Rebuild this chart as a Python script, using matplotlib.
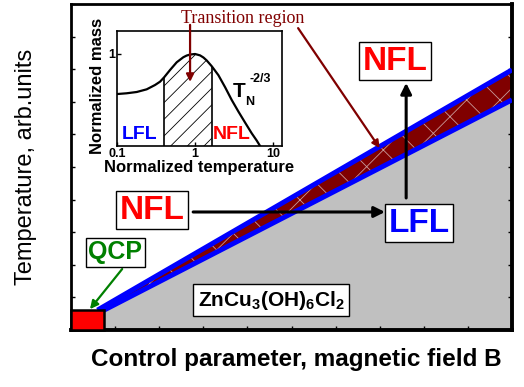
import numpy as np
import matplotlib
matplotlib.use("Agg")
import matplotlib.pyplot as plt

plt.rcParams["font.family"] = ["Liberation Sans", "DejaVu Sans"]
plt.rcParams["mathtext.fontset"] = "custom"
plt.rcParams["mathtext.bf"] = "Liberation Sans:bold"
plt.rcParams["mathtext.rm"] = "Liberation Sans:bold"
plt.rcParams["mathtext.default"] = "bf"
plt.rcParams["hatch.linewidth"] = 0.6

# ── phase diagram (arbitrary units, 0..1 on both axes) ─────────────────────────
upper_b = [0.06, 1.0]      # upper edge of the crossover band
upper_t = [0.061, 0.798]
lower_b = [0.075, 1.0]     # lower edge, top of the LFL region
lower_t = [0.061, 0.706]
qcp_size = (0.075, 0.061)

# ── inset: normalized effective mass vs normalized temperature ────────────────
t_norm = [0.101, 0.133, 0.179, 0.240, 0.307, 0.356, 0.401, 0.478, 0.582,
          0.708, 0.78, 0.863, 1.0, 1.159, 1.28, 1.41, 1.64, 1.99, 2.43, 2.95,
          3.60, 4.38, 5.32, 6.18, 6.81]
m_norm = [0.565, 0.573, 0.587, 0.616, 0.663, 0.699, 0.746, 0.826, 0.910,
          0.965, 0.983, 0.994, 1.0, 0.985, 0.962, 0.930, 0.866, 0.770, 0.638,
          0.50, 0.373, 0.254, 0.138, 0.058, 0.0]
trans_lo, trans_hi = 0.40, 1.65

DARKRED = "#800000"

fig = plt.figure(figsize=(5.24, 3.87), dpi=100)
ax = fig.add_axes([71 / 524, 1 - 330 / 387, 441 / 524, 326 / 387])
ax.set_xlim(0, 1)
ax.set_ylim(0, 1)

# grey LFL region below the lower boundary
ax.fill([lower_b[0], lower_b[1], 1.0, lower_b[0]],
        [lower_t[0], lower_t[1], 0.0, 0.0],
        facecolor="#c0c0c0", edgecolor="#a8e4e4", lw=1.2, zorder=1)

# transition band, dark red with thin light cross hatching
band_b = np.r_[upper_b, lower_b[::-1]]
band_t = np.r_[upper_t, lower_t[::-1]]
ax.fill(band_b, band_t, facecolor=DARKRED, edgecolor="#c89a9a",
        hatch="x", lw=0, zorder=2)
ax.plot(upper_b, upper_t, color="#0000ff", lw=3.6, zorder=3,
        solid_capstyle="butt")
ax.plot(lower_b, lower_t, color="#0000ff", lw=3.6, zorder=3,
        solid_capstyle="butt")

# QCP marker
ax.add_patch(plt.Rectangle((0, 0), qcp_size[0], qcp_size[1],
                           facecolor="#ff0000", edgecolor="black", lw=1.8,
                           zorder=4, clip_on=False))

for side in ["left", "top"]:
    ax.spines[side].set_linewidth(2.0)
for side in ["right", "bottom"]:
    ax.spines[side].set_linewidth(2.8)
ax.set_xticks(np.arange(0, 1.01, 0.1))
ax.set_yticks(np.arange(0, 1.01, 0.1))
ax.tick_params(direction="in", length=3, width=1, left=True, right=True,
               bottom=True, top=False, labelleft=False, labelbottom=False)

ax.set_ylabel("Temperature, arb.units", fontsize=17)
ax.yaxis.set_label_coords(-0.078, 0.5)
ax.set_xlabel("Control parameter, magnetic field B", fontsize=17.5,
              fontweight="bold")
ax.xaxis.set_label_coords(0.51, -0.055)

box = dict(boxstyle="square,pad=0.1", facecolor="white", edgecolor="black",
           lw=1)
ax.text(0.735, 0.825, "NFL", color="#ff0000", fontsize=24, fontweight="bold",
        ha="center", va="center", bbox=box, zorder=6)
ax.text(0.789, 0.328, "LFL", color="#0000ff", fontsize=24, fontweight="bold",
        ha="center", va="center", bbox=box, zorder=6)
ax.text(0.184, 0.368, "NFL", color="#ff0000", fontsize=24, fontweight="bold",
        ha="center", va="center", bbox=box, zorder=6)
ax.text(0.0998, 0.239, "QCP", color="#008000", fontsize=18, fontweight="bold",
        ha="center", va="center", bbox=box, zorder=6)
ax.text(0.4535, 0.092, r"ZnCu$_3$(OH)$_6$Cl$_2$", fontsize=15,
        fontweight="bold", ha="center", va="center",
        bbox=dict(boxstyle="square,pad=0.2", facecolor="white",
                  edgecolor="black", lw=1), zorder=6)

arrow_k = dict(arrowstyle="-|>", color="black", lw=2.2, mutation_scale=16,
               shrinkA=0, shrinkB=0)
ax.annotate("", xy=(0.76, 0.758), xytext=(0.76, 0.405), arrowprops=arrow_k,
            zorder=5)
ax.annotate("", xy=(0.712, 0.362), xytext=(0.277, 0.362), arrowprops=arrow_k,
            zorder=5)
ax.annotate("", xy=(0.043, 0.064), xytext=(0.116, 0.187),
            arrowprops=dict(arrowstyle="-|>", color="#008000", lw=1.6,
                            mutation_scale=12, shrinkA=0, shrinkB=0),
            zorder=5)

arrow_r = dict(arrowstyle="-|>", color=DARKRED, lw=1.6, mutation_scale=11,
               shrinkA=0, shrinkB=0)
ax.text(0.39, 0.955, "Transition region", color=DARKRED, fontsize=13,
        family="Liberation Serif", ha="center", va="center", zorder=6)
ax.annotate("", xy=(0.70, 0.558), xytext=(0.515, 0.926), arrowprops=arrow_r,
            zorder=5)

# ── inset ─────────────────────────────────────────────────────────────────────
ins = fig.add_axes([117 / 524, 1 - 146 / 387, 165 / 524, 115 / 387])
ins.set_xscale("log")
ins.set_xlim(0.1, 13)
ins.set_ylim(0, 1.25)
t = np.array(t_norm)
m = np.array(m_norm)
sel = (t >= trans_lo) & (t <= trans_hi)
ins.fill_between(t[sel], 0, m[sel], facecolor="white", edgecolor="black",
                 hatch="//", lw=0)
ins.vlines([t[sel][0], t[sel][-1]], 0, [m[sel][0], m[sel][-1]], color="black",
           lw=1.2)
ins.plot(t, m, color="black", lw=1.6)
for s in ins.spines.values():
    s.set_linewidth(1.2)
ins.set_xticks([0.1, 1, 10])
ins.set_xticklabels(["0.1", "1", "10"])
ins.xaxis.set_minor_locator(matplotlib.ticker.NullLocator())
ins.set_yticks([1])
ins.set_yticklabels(["1"])
ins.tick_params(direction="in", length=3, width=1, labelsize=9, pad=1.5)
for lbl in ins.get_xticklabels() + ins.get_yticklabels():
    lbl.set_fontweight("bold")
ins.set_xlabel("Normalized temperature", fontsize=12, fontweight="bold")
ins.xaxis.set_label_coords(0.497, -0.12)
ins.set_ylabel("Normalized mass", fontsize=12, fontweight="bold")
ins.yaxis.set_label_coords(-0.075, 0.52)

ins.text(0.03, 0.096, "LFL", transform=ins.transAxes, color="#0000ff",
         fontsize=14, fontweight="bold", ha="left", va="center")
ins.text(0.582, 0.096, "NFL", transform=ins.transAxes, color="#ff0000",
         fontsize=14, fontweight="bold", ha="left", va="center")
ins.text(0.703, 0.47, "T", transform=ins.transAxes, fontsize=15,
         fontweight="bold", ha="left", va="center")
ins.text(0.776, 0.38, "N", transform=ins.transAxes, fontsize=9,
         fontweight="bold", ha="left", va="center")
ins.text(0.80, 0.58, "-2/3", transform=ins.transAxes, fontsize=9,
         fontweight="bold", ha="left", va="center")

# arrow from the "Transition region" label down into the hatched area
ins.annotate("", xy=(0.27, 0.761), xycoords=ax.transData,
             xytext=(0.27, 0.936), textcoords=ax.transData,
             arrowprops=arrow_r, annotation_clip=False)

fig.savefig("out.png", dpi=100)
